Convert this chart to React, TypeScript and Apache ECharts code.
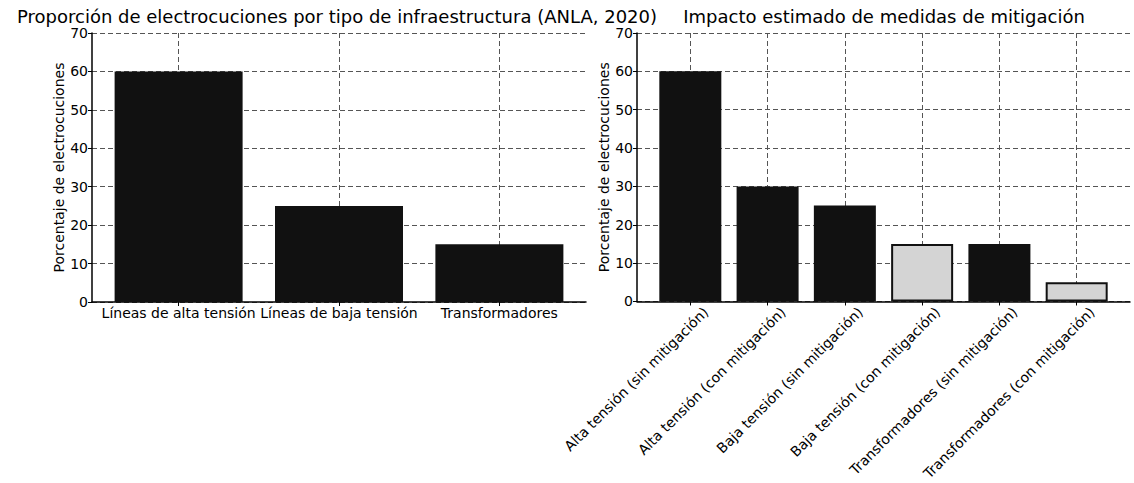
import React, { useEffect, useRef } from "react";
import * as echarts from "echarts";

const leftTitle = "Proporción de electrocuciones por tipo de infraestructura (ANLA, 2020)";
const rightTitle = "Impacto estimado de medidas de mitigación";
const yAxisName = "Porcentaje de electrocuciones";

const leftCategories = ["Líneas de alta tensión", "Líneas de baja tensión", "Transformadores"];
const leftValues = [60, 25, 15];

const rightCategories = [
  "Alta tensión (sin mitigación)",
  "Alta tensión (con mitigación)",
  "Baja tensión (sin mitigación)",
  "Baja tensión (con mitigación)",
  "Transformadores (sin mitigación)",
  "Transformadores (con mitigación)",
];
const rightValues = [60, 30, 25, 15, 15, 5];
const rightColors = ["#111111", "#111111", "#111111", "#d4d4d4", "#111111", "#d4d4d4"];

const yMin = 0;
const yMax = 70;
const yStep = 10;

const FONT = "DejaVu Sans";

export default function App() {
  const ref = useRef<HTMLDivElement>(null);

  useEffect(() => {
    document.body.style.margin = "0";
    if (!ref.current) return;
    const chart = echarts.init(ref.current, undefined, { renderer: "svg" });

    const leftIdx = leftCategories.map((_, i) => i);
    const rightIdx = rightCategories.map((_, i) => i);
    // rotated labels sit slightly right of their tick (anchored like matplotlib's ha="right")
    const rightLabelPos = rightIdx.map((i) => i + 0.2);

    const gridLine = { show: true, lineStyle: { color: "#555", type: [5, 3], width: 1 } };

    const makeY = (gridIndex: number) => ({
      type: "value",
      gridIndex,
      min: yMin,
      max: yMax,
      interval: yStep,
      name: yAxisName,
      nameLocation: "middle",
      nameGap: 25,
      nameTextStyle: { fontFamily: FONT, fontSize: 14, color: "#000" },
      axisLine: { show: true, onZero: false, lineStyle: { color: "#000", width: 1.5 } },
      axisTick: { show: true, length: 4, lineStyle: { color: "#000" } },
      axisLabel: { fontFamily: FONT, fontSize: 14, color: "#000", margin: 4 },
      splitLine: gridLine,
    });

    const option = {
      animation: false,
      backgroundColor: "#fff",
      graphic: [
        {
          type: "text",
          x: 337,
          y: 16,
          style: { text: leftTitle, align: "center", verticalAlign: "middle", fontFamily: FONT, fontSize: 18, fill: "#000" },
        },
        {
          type: "text",
          x: 884,
          y: 16,
          style: { text: rightTitle, align: "center", verticalAlign: "middle", fontFamily: FONT, fontSize: 18, fill: "#000" },
        },
      ],
      grid: [
        { left: 92, top: 33, width: 494, height: 269 },
        { left: 637, top: 33, width: 493, height: 269 },
      ],
      xAxis: [
        {
          type: "value",
          gridIndex: 0,
          min: -0.54,
          max: 2.54,
          axisLine: { show: true, onZero: false, lineStyle: { color: "#000", width: 1.5 } },
          axisTick: { show: true, length: 4, customValues: leftIdx, lineStyle: { color: "#000" } },
          axisLabel: {
            customValues: leftIdx,
            fontFamily: FONT,
            fontSize: 14,
            color: "#000",
            margin: 4,
            formatter: (v: number) => leftCategories[Math.round(v)] ?? "",
          },
          splitLine: gridLine,
        },
        {
          type: "value",
          gridIndex: 1,
          min: -0.69,
          max: 5.69,
          axisLine: { show: true, onZero: false, lineStyle: { color: "#000", width: 1.5 } },
          axisTick: { show: true, length: 4, customValues: rightIdx, lineStyle: { color: "#000" } },
          axisLabel: {
            customValues: rightLabelPos,
            rotate: 45,
            fontFamily: FONT,
            fontSize: 14,
            color: "#000",
            margin: 8,
            formatter: (v: number) => rightCategories[Math.round(v - 0.2)] ?? "",
          },
          splitLine: gridLine,
        },
      ],
      yAxis: [makeY(0), makeY(1)],
      series: [
        {
          type: "bar",
          xAxisIndex: 0,
          yAxisIndex: 0,
          barWidth: 128,
          itemStyle: { color: "#111111" },
          data: leftValues.map((v, i) => [i, v]),
        },
        {
          type: "bar",
          xAxisIndex: 1,
          yAxisIndex: 1,
          barWidth: 62,
          data: rightValues.map((v, i) => ({
            value: [i, v],
            itemStyle: {
              color: rightColors[i],
              borderColor: "#111111",
              borderWidth: rightColors[i] === "#111111" ? 0 : 2,
            },
          })),
        },
      ],
    };

    chart.setOption(option as any);
    return () => chart.dispose();
  }, []);

  return <div ref={ref} style={{ width: 1134, height: 483 }} />;
}
